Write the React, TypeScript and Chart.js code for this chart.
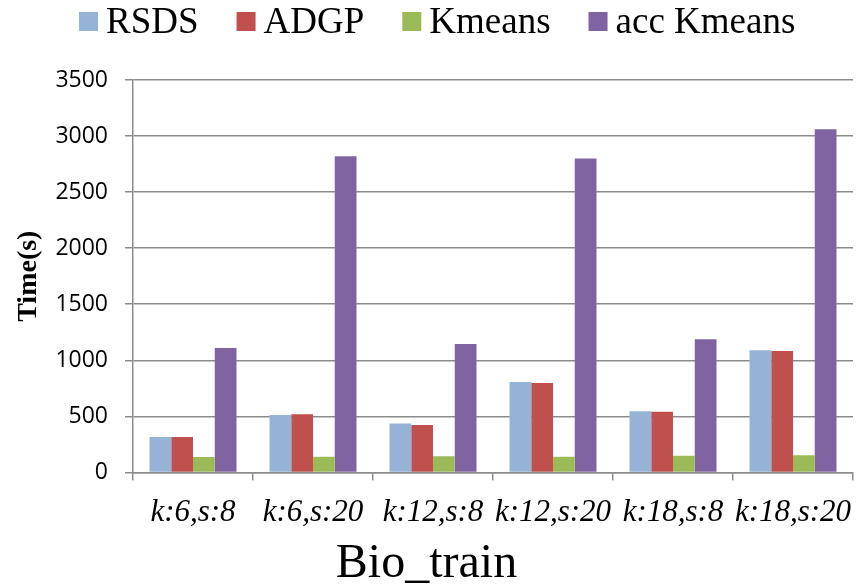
import React, { useEffect, useRef } from "react";
import { Chart, registerables } from "chart.js";

Chart.register(...registerables);

// Run-time per configuration on the Bio_train set
const categories = ["k:6,s:8", "k:6,s:20", "k:12,s:8", "k:12,s:20", "k:18,s:8", "k:18,s:20"];
const seriesNames = ["RSDS", "ADGP", "Kmeans", "acc Kmeans"];
const rsds = [316, 513, 436, 806, 546, 1090];
const adgp = [316, 519, 423, 797, 540, 1083];
const kmeans = [137, 140, 143, 140, 149, 152];
const accKmeans = [1110, 2820, 1146, 2800, 1188, 3060];
const seriesColors = ["#95B3D7", "#C0504D", "#9BBB59", "#8064A2"];

const GRID = "#8c8c8c";

// Legend row across the top: small square swatch, then the label
const topLegend = {
  id: "topLegend",
  afterDraw(chart: any) {
    const ctx = chart.ctx as CanvasRenderingContext2D;
    const items = chart.data.datasets;
    const box = 19;
    const gap = 8;
    const spacing = 38;
    ctx.save();
    ctx.font = '37px "Liberation Serif"';
    let x = 79;
    items.forEach((d: any) => {
      ctx.fillStyle = d.backgroundColor;
      ctx.fillRect(x, 12, box, box);
      ctx.fillStyle = "#000";
      ctx.textBaseline = "alphabetic";
      ctx.textAlign = "left";
      ctx.fillText(d.label, x + box + gap, 33);
      x += box + gap + ctx.measureText(d.label).width + spacing;
    });
    ctx.restore();
  },
};

export default function App() {
  const canvasRef = useRef<HTMLCanvasElement | null>(null);

  useEffect(() => {
    document.body.style.margin = "0";
    const canvas = canvasRef.current;
    if (!canvas) return;
    const values = [rsds, adgp, kmeans, accKmeans];
    const chart = new Chart(canvas, {
      type: "bar",
      data: {
        labels: categories,
        datasets: seriesNames.map((name, i) => ({
          label: name,
          data: values[i],
          backgroundColor: seriesColors[i],
          borderWidth: 0,
          barPercentage: 1,
          categoryPercentage: 0.725,
        })),
      },
      options: {
        responsive: false,
        animation: false,
        layout: { padding: { top: 80, right: 3, left: 0, bottom: 0 } },
        plugins: {
          legend: { display: false },
          tooltip: { enabled: false },
          title: {
            display: true,
            position: "bottom",
            text: "Bio_train",
            color: "#000",
            font: { family: '"Liberation Serif"', size: 48, weight: "normal", lineHeight: 0.8 },
            padding: { top: 0, bottom: 0 },
          },
        },
        scales: {
          x: {
            afterFit: (s: any) => {
              s.paddingLeft = 0;
              s.paddingRight = 0;
            },
            grid: {
              drawOnChartArea: false,
              drawTicks: true,
              tickLength: 8,
              color: GRID,
              lineWidth: 1.5,
              offset: true,
            },
            border: { display: true, color: GRID, width: 1.5 },
            ticks: {
              color: "#000",
              maxRotation: 0,
              minRotation: 0,
              autoSkip: false,
              padding: 14,
              font: { family: '"Liberation Serif"', size: 31, style: "italic", lineHeight: 1.2 },
            },
          },
          y: {
            min: 0,
            max: 3500,
            afterFit: (s: any) => {
              s.width = 133;
            },
            grid: {
              color: GRID,
              lineWidth: 1.5,
              drawTicks: true,
              tickLength: 8,
            },
            border: { display: true, color: GRID, width: 1.5 },
            ticks: {
              stepSize: 500,
              color: "#000",
              padding: 17,
              font: { family: '"Open Sans"', size: 23 },
              callback: (v: any) => String(v),
            },
            title: {
              display: true,
              text: "Time(s)",
              color: "#000",
              font: { family: '"Liberation Serif"', size: 28, weight: "bold", lineHeight: 1.2 },
              padding: { top: 12, bottom: 0 },
            },
          },
        },
      },
      plugins: [topLegend],
    });
    return () => chart.destroy();
  }, []);

  return (
    <div style={{ width: 856, height: 584 }}>
      <canvas ref={canvasRef} width={856} height={584} />
    </div>
  );
}
